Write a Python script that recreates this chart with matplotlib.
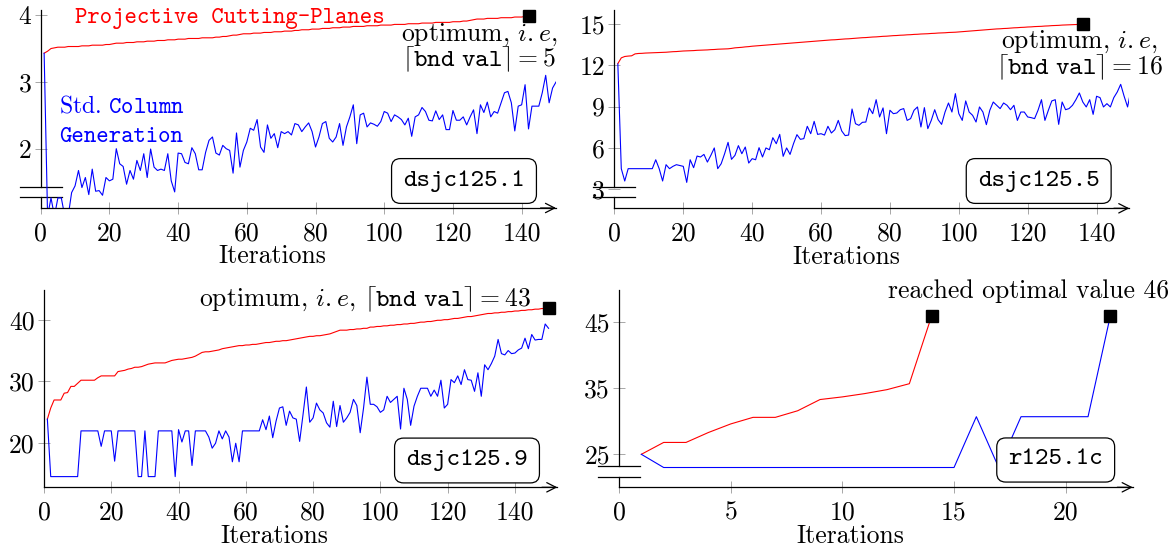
import numpy as np
import matplotlib.pyplot as plt

plt.rcParams['font.family'] = 'cmr10'
plt.rcParams['mathtext.fontset'] = 'cm'
plt.rcParams['axes.formatter.use_mathtext'] = True
plt.rcParams['axes.unicode_minus'] = False

W, H = 1176, 546
FS = 18.5

# ---- dsjc125.1 ----
p1_red = [3.43, 3.46, 3.50, 3.51, 3.52, 3.52, 3.52, 3.53, 3.53, 3.53,
          3.53, 3.54, 3.54, 3.54, 3.55, 3.55, 3.55, 3.55, 3.56, 3.56,
          3.57, 3.58, 3.58, 3.58, 3.59, 3.59, 3.59, 3.60, 3.60, 3.60,
          3.61, 3.61, 3.61, 3.62, 3.62, 3.62, 3.63, 3.63, 3.63, 3.64,
          3.64, 3.64, 3.65, 3.65, 3.65, 3.65, 3.66, 3.66, 3.66, 3.66,
          3.67, 3.67, 3.68, 3.68, 3.69, 3.70, 3.70, 3.71, 3.72, 3.72,
          3.72, 3.73, 3.73, 3.73, 3.74, 3.74, 3.74, 3.75, 3.75, 3.75,
          3.76, 3.76, 3.76, 3.77, 3.77, 3.78, 3.78, 3.78, 3.79, 3.79,
          3.79, 3.80, 3.80, 3.80, 3.81, 3.81, 3.81, 3.82, 3.82, 3.82,
          3.83, 3.83, 3.83, 3.83, 3.84, 3.84, 3.84, 3.84, 3.85, 3.85,
          3.85, 3.85, 3.86, 3.86, 3.86, 3.86, 3.87, 3.87, 3.87, 3.87,
          3.88, 3.88, 3.88, 3.88, 3.89, 3.89, 3.89, 3.89, 3.89, 3.90,
          3.90, 3.90, 3.91, 3.91, 3.92, 3.93, 3.94, 3.94, 3.94, 3.95,
          3.95, 3.95, 3.95, 3.96, 3.96, 3.96, 3.96, 3.97, 3.97, 3.97, 3.98, 3.985]
p1_blue = [3.43, 1.0, 1.27, 1.0, 1.27, 1.27, 1.0, 1.0, 1.35, 1.45,
           1.68, 1.425, 1.575, 1.32, 1.70, 1.37, 1.38, 1.31, 1.575, 1.525,
           1.55, 2.005, 1.78, 1.74, 1.475, 1.68, 1.55, 1.83, 1.68, 1.93,
           1.575, 2.0, 1.73, 1.68, 1.70, 1.68, 1.93, 1.525, 1.36, 1.94,
           1.93, 1.80, 1.78, 2.02, 1.93, 1.69, 1.69, 1.95, 2.13, 2.18,
           1.94, 1.91, 2.055, 2.005, 1.98, 1.64, 2.24, 1.73, 1.98, 2.105,
           2.31, 2.28, 2.44, 2.03, 1.95, 2.36, 2.16, 2.23, 2.02, 2.26,
           2.23, 2.26, 2.21, 2.38, 2.36, 2.26, 2.33, 2.39, 2.26, 2.03,
           2.18, 2.38, 2.41, 2.16, 2.105, 2.18, 2.38, 2.055, 2.33, 2.48,
           2.66, 2.08, 2.51, 2.535, 2.33, 2.39, 2.37, 2.34, 2.41, 2.56,
           2.535, 2.41, 2.51, 2.48, 2.44, 2.36, 2.46, 2.19, 2.48, 2.51,
           2.62, 2.56, 2.43, 2.42, 2.57, 2.44, 2.51, 2.29, 2.29, 2.575,
           2.43, 2.43, 2.48, 2.36, 2.48, 2.585, 2.23, 2.66, 2.545, 2.70,
           2.48, 2.56, 2.535, 2.69, 2.84, 2.86, 2.69, 2.27, 2.64, 2.66,
           2.96, 2.30, 2.64, 2.64, 2.64, 2.84, 3.10, 2.69, 2.91, 3.0]

# ---- dsjc125.5 ----
p2_red = [12.13, 12.55, 12.65, 12.68, 12.70, 12.84, 12.87, 12.88, 12.90, 12.91,
          12.92, 12.93, 12.94, 12.95, 12.96, 12.98, 13.00, 13.01, 13.03, 13.05,
          13.06, 13.07, 13.08, 13.10, 13.11, 13.12, 13.13, 13.15, 13.16, 13.18,
          13.19, 13.20, 13.21, 13.24, 13.28, 13.30, 13.32, 13.35, 13.37, 13.40,
          13.42, 13.44, 13.46, 13.48, 13.50, 13.52, 13.54, 13.56, 13.58, 13.60,
          13.62, 13.64, 13.66, 13.68, 13.70, 13.72, 13.74, 13.76, 13.78, 13.80,
          13.82, 13.84, 13.86, 13.87, 13.89, 13.91, 13.93, 13.94, 13.96, 13.98,
          14.00, 14.02, 14.03, 14.05, 14.07, 14.08, 14.10, 14.12, 14.13, 14.15,
          14.17, 14.18, 14.20, 14.21, 14.23, 14.24, 14.26, 14.27, 14.29, 14.30,
          14.31, 14.33, 14.34, 14.36, 14.37, 14.38, 14.40, 14.41, 14.42, 14.44,
          14.46, 14.48, 14.50, 14.52, 14.54, 14.56, 14.58, 14.60, 14.62, 14.64,
          14.66, 14.67, 14.69, 14.70, 14.72, 14.74, 14.75, 14.77, 14.78, 14.80,
          14.81, 14.83, 14.84, 14.85, 14.87, 14.88, 14.90, 14.91, 14.92, 14.94,
          14.95, 14.96, 14.97, 14.98, 14.99, 15.00]
p2_blue = [12.1, 4.47, 3.57, 4.47, 4.47, 4.47, 4.47, 4.47, 4.47, 4.47,
           4.47, 5.12, 4.47, 3.57, 4.76, 4.47, 4.64, 4.76, 4.70, 4.64,
           3.47, 5.12, 4.54, 5.39, 5.32, 5.51, 4.95, 5.44, 5.98, 4.47,
           4.83, 5.56, 6.39, 5.15, 5.44, 6.15, 5.56, 6.05, 4.88, 5.20,
           5.12, 6.00, 5.32, 5.98, 5.85, 6.73, 6.29, 6.97, 5.37, 5.98,
           5.51, 6.29, 6.95, 6.61, 6.66, 7.56, 7.02, 7.92, 6.97, 7.02,
           6.92, 7.56, 7.07, 7.31, 7.99, 7.22, 6.88, 6.92, 8.82, 7.75,
           7.63, 7.85, 7.87, 8.90, 8.48, 9.50, 8.24, 8.90, 7.02, 8.73,
           8.48, 8.53, 8.77, 8.85, 7.99, 8.12, 8.73, 8.97, 7.51, 8.92,
           7.39, 7.99, 8.77, 8.04, 7.70, 8.60, 9.26, 8.60, 9.94, 8.48,
           7.99, 9.41, 8.60, 8.36, 7.87, 8.97, 8.60, 7.68, 8.73, 9.33,
           9.09, 8.85, 9.26, 9.09, 8.77, 9.09, 7.99, 8.60, 8.60, 8.24,
           8.19, 8.12, 8.73, 9.50, 7.99, 8.73, 9.41, 9.50, 7.70, 9.33,
           8.77, 8.85, 9.09, 9.50, 9.99, 9.33, 8.97, 9.50, 8.43, 9.75,
           9.65, 8.97, 9.21, 8.97, 9.65, 10.06, 10.62, 9.75, 8.97, 10.23]

# ---- dsjc125.9 ----
p3_red = [23.9, 25.7, 27.0, 27.0, 27.0, 28.1, 28.2, 29.2, 29.2, 29.7,
          30.2, 30.2, 30.2, 30.2, 30.2, 30.6, 30.9, 30.9, 30.9, 30.9,
          30.9, 31.6, 31.7, 31.8, 32.0, 32.1, 32.3, 32.3, 32.4, 32.6,
          32.8, 32.9, 33.0, 33.0, 33.0, 33.0, 33.2, 33.4, 33.5, 33.6,
          33.6, 33.7, 33.8, 33.9, 34.1, 34.4, 34.7, 34.8, 34.8, 34.9,
          35.0, 35.1, 35.3, 35.4, 35.5, 35.6, 35.7, 35.8, 35.8, 35.9,
          35.9, 36.0, 36.0, 36.1, 36.2, 36.3, 36.3, 36.4, 36.5, 36.5,
          36.6, 36.6, 36.7, 36.8, 36.9, 37.0, 37.1, 37.2, 37.3, 37.3,
          37.4, 37.4, 37.5, 37.6, 37.7, 37.9, 38.1, 38.3, 38.3, 38.3,
          38.4, 38.4, 38.5, 38.5, 38.6, 38.6, 38.8, 38.8, 38.9, 38.9,
          39.0, 39.0, 39.1, 39.1, 39.2, 39.2, 39.3, 39.3, 39.4, 39.4,
          39.5, 39.6, 39.6, 39.7, 39.7, 39.8, 39.9, 39.9, 40.0, 40.0,
          40.1, 40.2, 40.2, 40.3, 40.4, 40.5, 40.5, 40.6, 40.7, 40.8,
          40.9, 41.0, 41.0, 41.1, 41.1, 41.2, 41.2, 41.3, 41.3, 41.4,
          41.4, 41.5, 41.5, 41.6, 41.6, 41.7, 41.7, 41.8, 41.8, 41.9]
p3_blue = ([23.9] + [14.6] * 9 + [22.0] * 6 + [19.5] + [22.0] * 3 + [17.1]
           + [22.0] * 6 + [14.6] * 2 + [22.0] + [14.6] * 3 + [22.0] * 5 + [14.6]
           + [22.2, 20.2, 22.0, 22.0, 16.4, 22.0, 22.0, 22.0, 22.0, 21.0,
              19.2, 20.0, 22.0, 20.7, 22.0, 21.0, 17.0, 20.0, 17.0, 22.0,
              22.0, 22.0, 22.0, 22.0, 22.0, 23.8,
              22.2, 24.4, 20.9, 23.6, 25.7, 25.9, 22.9, 25.2, 24.1, 23.9,
              20.3, 24.6, 29.1, 23.4, 24.1, 26.5, 25.4, 24.9, 23.3, 22.6,
              26.8, 22.7, 26.1, 23.4, 24.1, 25.0, 27.1, 26.1, 21.7, 25.7,
              30.7, 26.3, 26.3, 25.9, 25.0, 25.4, 27.6, 26.6, 27.1, 27.6,
              22.3, 28.9, 27.1, 22.9, 26.0, 27.6, 28.9, 28.9, 28.9, 27.6,
              28.6, 27.6, 30.2, 25.7, 26.3, 30.3, 29.8, 30.9, 29.5, 31.9,
              30.3, 30.2, 28.4, 31.4, 27.6, 32.7, 31.9, 32.9, 34.1, 36.8,
              34.5, 34.3, 35.0, 34.5, 34.6, 35.1, 35.4, 37.0, 35.3, 37.6,
              36.7, 36.8, 36.8, 39.3, 38.6])

# ---- r125.1c ----
p4_red = [25.0, 26.8, 26.8, 28.3, 29.6, 30.6, 30.6, 31.6, 33.3, 33.7, 34.2, 34.8, 35.7, 46.0]
p4_blue = [25.0] + [23.0] * 14 + [30.7, 23.0, 30.7, 30.7, 30.7, 30.7, 46.0]

fig = plt.figure(figsize=(W / 100, H / 100), dpi=100)


def px(x, y):
    return x / W, 1 - y / H


def make_axes(left, right, top, bottom, xlim, ylim, xticks, yticks, brk=None):
    ax = fig.add_axes([left / W, 1 - bottom / H, (right - left) / W, (bottom - top) / H])
    ax.patch.set_alpha(0)
    ax.set_xlim(*xlim)
    ax.set_ylim(*ylim)
    ax.set_xticks(xticks)
    ax.set_xticklabels([str(t) for t in xticks])
    ax.set_yticks(yticks)
    ax.set_yticklabels([str(t) for t in yticks])
    for s in ('top', 'right'):
        ax.spines[s].set_visible(False)
    ax.spines['bottom'].set_linewidth(0.9)
    ax.spines['left'].set_linewidth(0.9)
    ax.tick_params(axis='both', direction='inout', length=8, width=0.6, color='#999999',
                   labelsize=FS)
    ax.tick_params(axis='x', pad=5.6)
    ax.tick_params(axis='y', pad=2.6)
    ax.annotate('', xy=(1, 0), xytext=(0.97, 0), xycoords='axes fraction',
                arrowprops=dict(arrowstyle='->,head_length=0.55,head_width=0.28', lw=0.9,
                                color='black', shrinkA=0, shrinkB=0, mutation_scale=12))
    wpx, hpx = right - left, bottom - top
    ax.set_xlabel('Iterations', fontsize=FS)
    ax.xaxis.set_label_coords(0.5 - 26 / wpx, -36.5 / hpx)
    if brk is not None:
        lo, hi = brk[0] / hpx, brk[1] / hpx
        ax.spines['left'].set_visible(False)
        kw = dict(transform=ax.transAxes, color='black', lw=0.9, clip_on=False)
        ax.plot([0, 0], [hi, 1], **kw)
        ax.plot([0, 0], [0, lo], **kw)
        d = 21 / wpx
        ax.plot([-d, d], [lo, lo], **kw)
        ax.plot([-d, d], [hi, hi], **kw)
    return ax


def label_box(x, y, s):
    fig.text(*px(x, y), s, family='cmtt10', fontsize=FS, ha='center', va='center',
             bbox=dict(boxstyle='round,pad=0.45,rounding_size=0.35', fc='white', ec='black', lw=0.9))


lw = 0.8
IE = r'optimum, $i{.}e$,'

# top-left
ax1 = make_axes(40.7, 556, 10, 208, (0, 150), (1.12, 4.075), list(range(0, 141, 20)), [2, 3, 4],
                brk=(11, 21))
ax1.plot(np.arange(1, len(p1_red) + 1), p1_red, color='red', lw=lw)
ax1.plot(np.arange(1, len(p1_blue) + 1), p1_blue, color='blue', lw=lw)
ax1.plot(len(p1_red), p1_red[-1], 's', color='black', ms=8.5, clip_on=False, zorder=5)
fig.text(*px(75, 22.8), 'Projective Cutting-Planes', family='cmtt10', fontsize=17, color='red',
         ha='left', va='baseline')
fig.text(*px(59, 113), r'$\mathrm{Std.}\,\mathtt{Column}$', fontsize=17, color='blue',
         ha='left', va='baseline')
fig.text(*px(59, 142), 'Generation', family='cmtt10', fontsize=17, color='blue',
         ha='left', va='baseline')
fig.text(*px(479, 66.7), IE + '\n' + r'$\lceil\mathtt{bnd\ val}\rceil = 5$', fontsize=FS,
         ha='center', va='baseline', multialignment='center', linespacing=0.88)
label_box(464, 181, 'dsjc125.1')

# top-right
ax2 = make_axes(614.4, 1129.3, 10, 208.3, (0, 149.5), (1.58, 16.04), list(range(0, 141, 20)),
                [3, 6, 9, 12, 15], brk=(11, 21))
ax2.plot(np.arange(1, len(p2_red) + 1), p2_red, color='red', lw=lw)
ax2.plot(np.arange(1, len(p2_blue) + 1), p2_blue, color='blue', lw=lw)
ax2.plot(len(p2_red), p2_red[-1], 's', color='black', ms=8.5, clip_on=False, zorder=5)
fig.text(*px(1079, 74), IE + '\n' + r'$\lceil\mathtt{bnd\ val}\rceil = 16$', fontsize=FS,
         ha='center', va='baseline', multialignment='center', linespacing=0.88)
label_box(1038.7, 181, 'dsjc125.5')

# bottom-left
ax3 = make_axes(44, 557.3, 290, 487.3, (0, 152.6), (12.87, 44.8), list(range(0, 141, 20)),
                [20, 30, 40])
ax3.plot(np.arange(1, len(p3_red) + 1), p3_red, color='red', lw=lw)
ax3.plot(np.arange(1, len(p3_blue) + 1), p3_blue, color='blue', lw=lw)
ax3.plot(len(p3_red), p3_red[-1], 's', color='black', ms=8.5, clip_on=False, zorder=5)
fig.text(*px(531, 306), IE + r' $\lceil\mathtt{bnd\ val}\rceil = 43$', fontsize=FS,
         ha='right', va='baseline')
label_box(467, 460.5, 'dsjc125.9')

# bottom-right
ax4 = make_axes(619, 1132.7, 290, 487.3, (0, 23), (20, 49.9), [0, 5, 10, 15, 20], [25, 35, 45],
                brk=(10.7, 21.3))
ax4.plot(np.arange(1, len(p4_red) + 1), p4_red, color='red', lw=lw)
ax4.plot(np.arange(1, len(p4_blue) + 1), p4_blue, color='blue', lw=lw)
ax4.plot([len(p4_red), len(p4_blue)], [p4_red[-1], p4_blue[-1]], 's', color='black', ms=8.5,
         clip_on=False, zorder=5)
fig.text(*px(1029, 298), 'reached optimal value 46', fontsize=FS, ha='center', va='baseline')
label_box(1055.7, 460, 'r125.1c')

fig.savefig('out.png', dpi=100)
